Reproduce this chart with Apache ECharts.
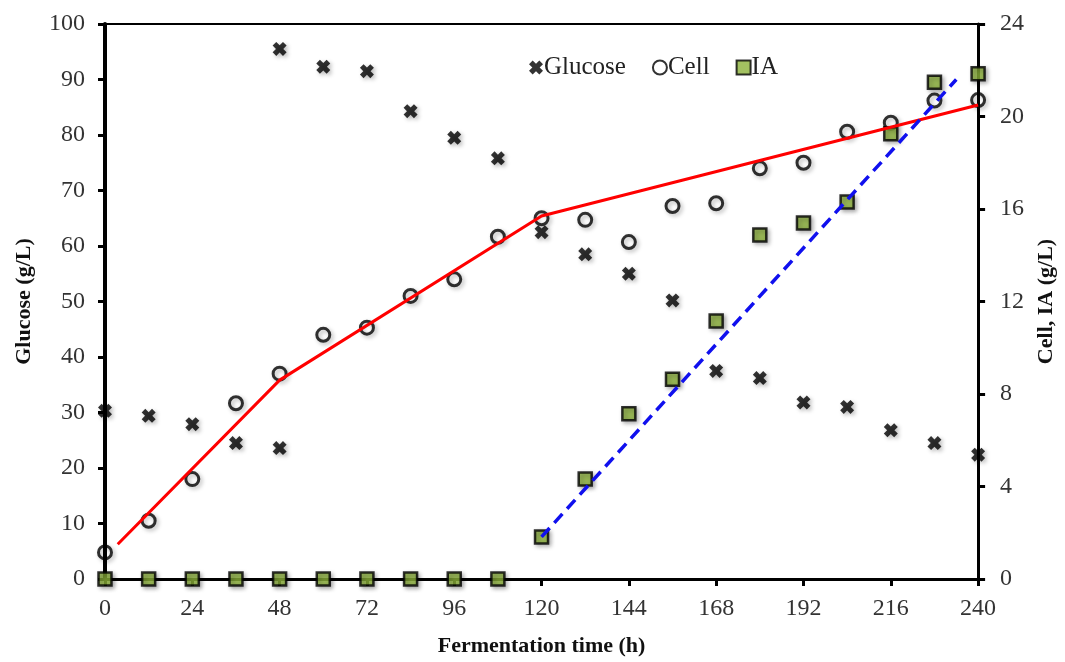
<!DOCTYPE html>
<html>
<head>
<meta charset="utf-8">
<script src="https://cdn.jsdelivr.net/npm/echarts@6/dist/echarts.min.js"></script>
<style>html,body{margin:0;padding:0;background:#fff;}#c{width:1065px;height:662px;}</style>
</head>
<body>
<div id="c"></div>
<script>
// Data
var glucoseTime = [0, 12, 24, 36, 48, 48, 60, 72, 84, 96, 108, 120, 132, 144, 156, 168, 180, 192, 204, 216, 228, 240];
var glucose     = [30.3, 29.4, 27.9, 24.5, 23.6, 95.5, 92.3, 91.5, 84.3, 79.5, 75.8, 62.5, 58.5, 55.0, 50.2, 37.5, 36.2, 31.8, 31.0, 26.8, 24.5, 22.4];
var sampleTime  = [0, 12, 24, 36, 48, 60, 72, 84, 96, 108, 120, 132, 144, 156, 168, 180, 192, 204, 216, 228, 240];
var cell        = [1.15, 2.52, 4.32, 7.6, 8.88, 10.56, 10.87, 12.24, 12.96, 14.8, 15.6, 15.53, 14.57, 16.13, 16.25, 17.76, 18.0, 19.34, 19.73, 20.69, 20.71];
var ia          = [0, 0, 0, 0, 0, 0, 0, 0, 0, 0, 1.82, 4.32, 7.15, 8.64, 11.16, 14.88, 15.4, 16.3, 19.25, 21.48, 21.85];
var cellFitTime = [3.5, 48, 120, 240];
var cellFit     = [1.5, 8.6, 15.7, 20.5];
var iaFitTime   = [120, 234];
var iaFit       = [1.82, 21.6];
var xTicks = [0, 24, 48, 72, 96, 120, 144, 168, 192, 216, 240];

function pairs(xs, ys){ return xs.map(function(x,i){ return [x, ys[i]]; }); }

var serif = '"Liberation Serif", "DejaVu Serif", serif';
var xPath = 'path://M2.6,0 L5,2.4 L7.4,0 L10,2.6 L7.6,5 L10,7.4 L7.4,10 L5,7.6 L2.6,10 L0,7.4 L2.4,5 L0,2.6 Z';
var shadow = {shadowBlur: 4, shadowColor: 'rgba(0,0,0,0.35)', shadowOffsetX: 2, shadowOffsetY: 2};

var chart = echarts.init(document.getElementById('c'), null, {renderer: 'canvas'});
chart.setOption({
  animation: false,
  backgroundColor: '#fff',
  grid: {left: 105, right: 86, top: 24, bottom: 80, show: true, borderColor: '#000', borderWidth: 2, containLabel: false},
  legend: {
    data: ['Glucose', 'Cell', 'IA'],
    left: 524, top: 50,
    itemWidth: 14, itemHeight: 14, itemGap: 26,
    textStyle: {fontFamily: serif, fontSize: 25, color: '#222', padding: [0,0,0,-4]}
  },
  xAxis: {
    type: 'value', min: 0, max: 240, interval: 24,
    name: 'Fermentation time (h)', nameLocation: 'middle', nameGap: 56,
    nameTextStyle: {fontFamily: serif, fontSize: 22, fontWeight: 'bold', color: '#111'},
    axisLine: {show: true, lineStyle: {color: '#000', width: 3}},
    axisTick: {show: true, inside: false, length: 7, lineStyle: {color: '#000', width: 3}},
    axisLabel: {fontFamily: serif, fontSize: 24, color: '#333', margin: 18},
    splitLine: {show: false}
  },
  yAxis: [{
    type: 'value', min: 0, max: 100, interval: 10, position: 'left',
    name: 'Glucose (g/L)', nameLocation: 'middle', nameGap: 70, nameRotate: 90,
    nameTextStyle: {fontFamily: serif, fontSize: 22, fontWeight: 'bold', color: '#111'},
    axisLine: {show: true, lineStyle: {color: '#000', width: 4}},
    axisTick: {show: true, inside: false, length: 7, lineStyle: {color: '#000', width: 3}},
    axisLabel: {fontFamily: serif, fontSize: 24, color: '#333', margin: 20},
    splitLine: {show: false}
  }, {
    type: 'value', min: 0, max: 24, interval: 4, position: 'right',
    name: 'Cell, IA (g/L)', nameLocation: 'middle', nameGap: 56, nameRotate: 90,
    nameTextStyle: {fontFamily: serif, fontSize: 22, fontWeight: 'bold', color: '#111'},
    axisLine: {show: true, lineStyle: {color: '#000', width: 3}},
    axisTick: {show: true, inside: false, length: 7, lineStyle: {color: '#000', width: 3}},
    axisLabel: {fontFamily: serif, fontSize: 24, color: '#333', margin: 22},
    splitLine: {show: false}
  }],
  series: [{
    name: 'Glucose', type: 'scatter', yAxisIndex: 0,
    symbol: xPath, symbolSize: 14,
    itemStyle: Object.assign({color: '#000'}, shadow),
    data: pairs(glucoseTime, glucose), z: 3
  }, {
    name: 'Cell', type: 'scatter', yAxisIndex: 1,
    symbol: 'circle', symbolSize: 13,
    itemStyle: Object.assign({color: 'rgba(255,255,255,0)', borderColor: '#000', borderWidth: 3}, shadow),
    data: pairs(sampleTime, cell), z: 3
  }, {
    name: 'IA', type: 'scatter', yAxisIndex: 1,
    symbol: 'rect', symbolSize: 13,
    itemStyle: Object.assign({color: '#8cb23a', borderColor: '#000', borderWidth: 2.5}, shadow),
    data: pairs(sampleTime, ia), z: 4
  }, {
    name: 'CellFit', type: 'line', yAxisIndex: 1, showSymbol: false, symbol: 'none',
    lineStyle: {color: '#ff0000', width: 3},
    data: pairs(cellFitTime, cellFit), z: 5
  }, {
    name: 'IAFit', type: 'line', yAxisIndex: 1, showSymbol: false, symbol: 'none',
    lineStyle: {color: '#1010ee', width: 3.5, type: [12, 7]},
    data: pairs(iaFitTime, iaFit), z: 5
  }]
});
</script>
</body>
</html>
